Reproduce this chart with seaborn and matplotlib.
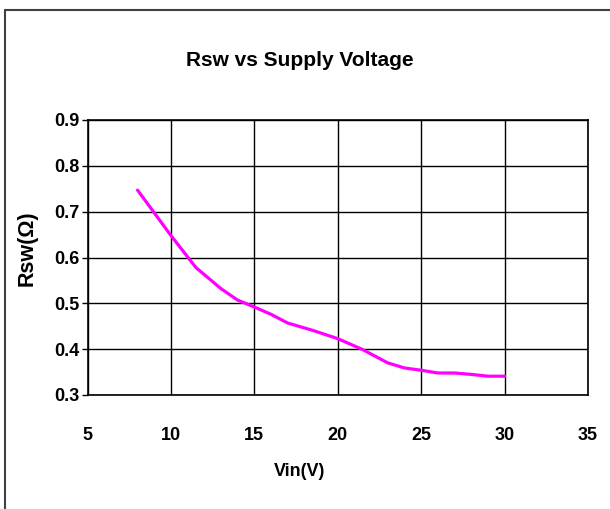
import numpy as np
import pandas as pd
import matplotlib
matplotlib.use("Agg")
import matplotlib.pyplot as plt
import seaborn as sns
from matplotlib.lines import Line2D

# data
vin = [8, 10, 11.5, 13, 14, 15, 16, 17, 18.5, 20, 21.5, 23, 24, 25, 26, 27, 28, 29, 30]
rsw = [0.747, 0.648, 0.578, 0.532, 0.507, 0.492, 0.476, 0.457, 0.441, 0.423,
       0.399, 0.370, 0.359, 0.354, 0.348, 0.348, 0.345, 0.341, 0.341]

x_ticks = [5, 10, 15, 20, 25, 30, 35]
y_ticks = [0.3, 0.4, 0.5, 0.6, 0.7, 0.8, 0.9]

df = pd.DataFrame({"Vin": vin, "Rsw": rsw})

sns.set_theme(style="white")
narrow = ["Liberation Sans Narrow", "Liberation Sans", "DejaVu Sans"]
plt.rcParams["font.family"] = narrow
plt.rcParams["text.color"] = "black"

W, H = 610, 509
fig = plt.figure(figsize=(W / 100, H / 100), dpi=100)
fig.patch.set_facecolor("white")

# outer chart border (left and top visible in the reference)
fig.add_artist(Line2D([5 / W, 5 / W], [0, 1 - 10 / H], color="#404040", lw=1.5))
fig.add_artist(Line2D([5 / W, 1], [1 - 10 / H, 1 - 10 / H], color="#404040", lw=1.5))

ax = fig.add_axes([87.5 / W, 1 - 395 / H, 500.5 / W, 275 / H])
sns.lineplot(data=df, x="Vin", y="Rsw", ax=ax, color="#FF00FF", lw=2.3)

ax.set_xlim(5, 35)
ax.set_ylim(0.3, 0.9)
ax.set_xticks(x_ticks)
ax.set_yticks(y_ticks)
ax.set_xticklabels([str(t) for t in x_ticks])
ax.set_yticklabels([f"{t:.1f}" for t in y_ticks])
ax.grid(True, color="black", lw=1)
ax.set_axisbelow(True)
for s in ax.spines.values():
    s.set_color("black")
    s.set_linewidth(1.2)

ax.tick_params(axis="x", length=0, pad=23, labelsize=13, labelcolor="black")
ax.tick_params(axis="y", length=4, width=1, color="black", direction="out", pad=2,
               labelsize=13, labelcolor="black", left=True)
for lab in ax.get_xticklabels() + ax.get_yticklabels():
    lab.set_fontweight("bold")

ax.set_xlabel("")
ax.set_ylabel("")
fig.text(300 / W, 1 - 472 / H, "Vin(V)", ha="center", va="center", color="black",
         fontsize=13, fontweight="bold", family=narrow)
fig.text(27 / W, 1 - 248 / H, "Rsw(Ω)", ha="center", va="center", rotation=90, color="black",
         fontsize=15.5, fontweight="bold", family=["Liberation Sans", "DejaVu Sans"])
fig.text(300 / W, 1 - 61 / H, "Rsw vs Supply Voltage", ha="center", va="center", color="black",
         fontsize=15, fontweight="bold", family=narrow)

fig.savefig("out.png", dpi=100)
